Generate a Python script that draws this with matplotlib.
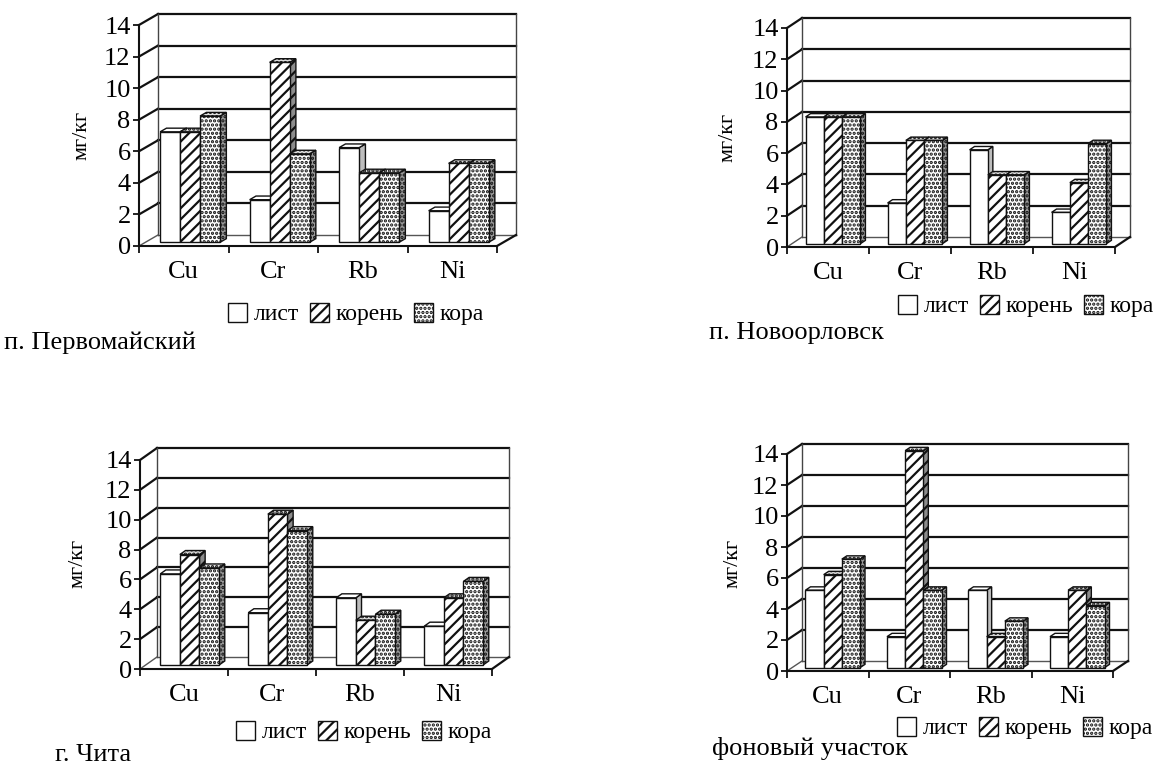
import matplotlib
matplotlib.use("Agg")
import matplotlib.pyplot as plt
from matplotlib.patches import Polygon, Patch

plt.rcParams['font.family'] = ['Liberation Serif', 'DejaVu Serif']
plt.rcParams['hatch.linewidth'] = 1.6
plt.rcParams['hatch.color'] = 'black'

elements = ["Cu", "Cr", "Rb", "Ni"]
series_names = ["лист", "корень", "кора"]
y_ticks = [0, 2, 4, 6, 8, 10, 12, 14]

# values, мг/кг
pervomaisky_list = [7.0, 2.7, 6.0, 2.0]
pervomaisky_koren = [7.0, 11.4, 4.4, 5.0]
pervomaisky_kora = [8.0, 5.6, 4.4, 5.0]

novoorlovsk_list = [8.1, 2.6, 6.0, 2.0]
novoorlovsk_koren = [8.1, 6.6, 4.4, 3.9]
novoorlovsk_kora = [8.1, 6.6, 4.4, 6.4]

chita_list = [6.1, 3.5, 4.5, 2.6]
chita_koren = [7.4, 10.1, 3.0, 4.5]
chita_kora = [6.5, 9.0, 3.4, 5.6]

background_list = [5.0, 2.0, 5.0, 2.0]
background_koren = [6.0, 14.0, 2.0, 5.0]
background_kora = [7.0, 5.0, 3.0, 4.0]

W, H = 1161, 765

# pixel layout of each panel: y-axis x, floor right x, y of 0, y of 14, depth (px), texts
panels = [
    dict(title="п. Первомайский", vals=(pervomaisky_list, pervomaisky_koren, pervomaisky_kora),
         x0=139, x1=497, yb=246, yt=25, ddx=19, ddy=11,
         ylab=(82, 135), leg=(356, 314), tit=(4, 343)),
    dict(title="п. Новоорловск", vals=(novoorlovsk_list, novoorlovsk_koren, novoorlovsk_kora),
         x0=787, x1=1115, yb=247, yt=28, ddx=15, ddy=10,
         ylab=(728, 137), leg=(1026, 306), tit=(709, 333)),
    dict(title="г. Чита", vals=(chita_list, chita_koren, chita_kora),
         x0=140, x1=492, yb=669, yt=460, ddx=17, ddy=12,
         ylab=(78, 563), leg=(364, 732), tit=(55, 755)),
    dict(title="фоновый участок", vals=(background_list, background_koren, background_kora),
         x0=787, x1=1113, yb=671, yt=454, ddx=15, ddy=10,
         ylab=(733, 563), leg=(1025, 728), tit=(712, 748)),
]

faces = [
    dict(fc="white", hatch=None, side="#bdbdbd", top="white"),
    dict(fc="white", hatch="///", side="#8c8c8c", top="#d9d9d9"),
    dict(fc="white", hatch="....", side="#9a9a9a", top="#e0e0e0"),
]

fig = plt.figure(figsize=(W / 100, H / 100), dpi=100)
fig.patch.set_facecolor("white")

LC = "#111111"

for p in panels:
    ax = fig.add_axes([p["x0"] / W, 1 - p["yb"] / H,
                       (p["x1"] - p["x0"]) / W, (p["yb"] - p["yt"]) / H])
    ax.set_xlim(0, 4)
    ax.set_ylim(0, 14)
    ax.patch.set_visible(False)
    for s in ("top", "right", "bottom"):
        ax.spines[s].set_visible(False)
    ax.spines["left"].set_color(LC)
    ax.spines["left"].set_linewidth(1.5)

    DX = p["ddx"] / ((p["x1"] - p["x0"]) / 4)
    DY = p["ddy"] / ((p["yb"] - p["yt"]) / 14)
    ymax = 14

    # back wall, floor and left wall
    kw = dict(color=LC, lw=1.6, clip_on=False, zorder=1)
    for v in y_ticks[1:]:
        ax.plot([DX, 4 + DX], [v + DY, v + DY], **kw)
        ax.plot([0, DX], [v, v + DY], **kw)
    ax.plot([DX, 4 + DX], [DY, DY], color="#555555", lw=1.0, clip_on=False, zorder=1)
    ax.plot([DX, DX], [DY, ymax + DY], color="#444444", lw=1.0, clip_on=False, zorder=1)
    ax.plot([4 + DX, 4 + DX], [DY, ymax + DY], color="#444444", lw=1.0, clip_on=False, zorder=1)
    ax.plot([0, DX], [0, DY], color="#555555", lw=1.0, clip_on=False, zorder=1)
    ax.plot([4, 4 + DX], [0, DY], **kw)
    ax.plot([0, 4], [0, 0], color=LC, lw=1.5, clip_on=False, zorder=2)

    # bars
    w = 0.223
    f = 1 / 3
    bdx, bdy = DX / 3, DY / 3
    for j, vals in enumerate(p["vals"]):
        st = faces[j]
        xs = [i + 0.5 + (j - 1) * w + f * DX for i in range(len(elements))]
        bars = ax.bar(xs, vals, width=w, bottom=f * DY, color=st["fc"],
                      edgecolor=LC, linewidth=1.0, hatch=st["hatch"],
                      zorder=4 + 2 * j, clip_on=False)
        for b in bars:
            xl = b.get_x()
            xr = xl + b.get_width()
            yb0 = b.get_y()
            yt0 = yb0 + b.get_height()
            side = Polygon([(xr, yb0), (xr + bdx, yb0 + bdy), (xr + bdx, yt0 + bdy), (xr, yt0)],
                           closed=True, facecolor=st["side"], edgecolor=LC, lw=1.0,
                           hatch=st["hatch"], zorder=3 + 2 * j, clip_on=False)
            top = Polygon([(xl, yt0), (xr, yt0), (xr + bdx, yt0 + bdy), (xl + bdx, yt0 + bdy)],
                          closed=True, facecolor=st["top"], edgecolor=LC, lw=1.0,
                          hatch="...." if st["hatch"] else None,
                          zorder=3 + 2 * j, clip_on=False)
            ax.add_patch(side)
            ax.add_patch(top)

    ax.set_yticks(y_ticks)
    ax.tick_params(axis="y", length=4, width=1.3, color=LC, pad=2, labelsize=19)
    ax.set_xticks([0, 1, 2, 3, 4])
    ax.set_xticklabels([])
    ax.tick_params(axis="x", which="major", length=5, width=1.3, color=LC)
    ax.set_xticks([0.5, 1.5, 2.5, 3.5], minor=True)
    ax.set_xticklabels(elements, minor=True, fontsize=19)
    ax.tick_params(axis="x", which="minor", length=0, pad=11)

    fig.text(p["ylab"][0] / W, 1 - p["ylab"][1] / H, "мг/кг", rotation=90,
             ha="center", va="center", fontsize=16)
    fig.text(p["tit"][0] / W, 1 - p["tit"][1] / H, p["title"],
             ha="left", va="center", fontsize=19)

    handles = [Patch(facecolor=faces[k]["fc"], edgecolor=LC, hatch=faces[k]["hatch"],
                     label=series_names[k]) for k in range(3)]
    fig.legend(handles=handles, loc="center",
               bbox_to_anchor=(p["leg"][0] / W, 1 - p["leg"][1] / H),
               ncol=3, frameon=False, fontsize=17, handlelength=0.8, handleheight=0.9,
               handletextpad=0.3, columnspacing=0.45, borderpad=0)

fig.savefig("out.png", dpi=100, facecolor="white")
